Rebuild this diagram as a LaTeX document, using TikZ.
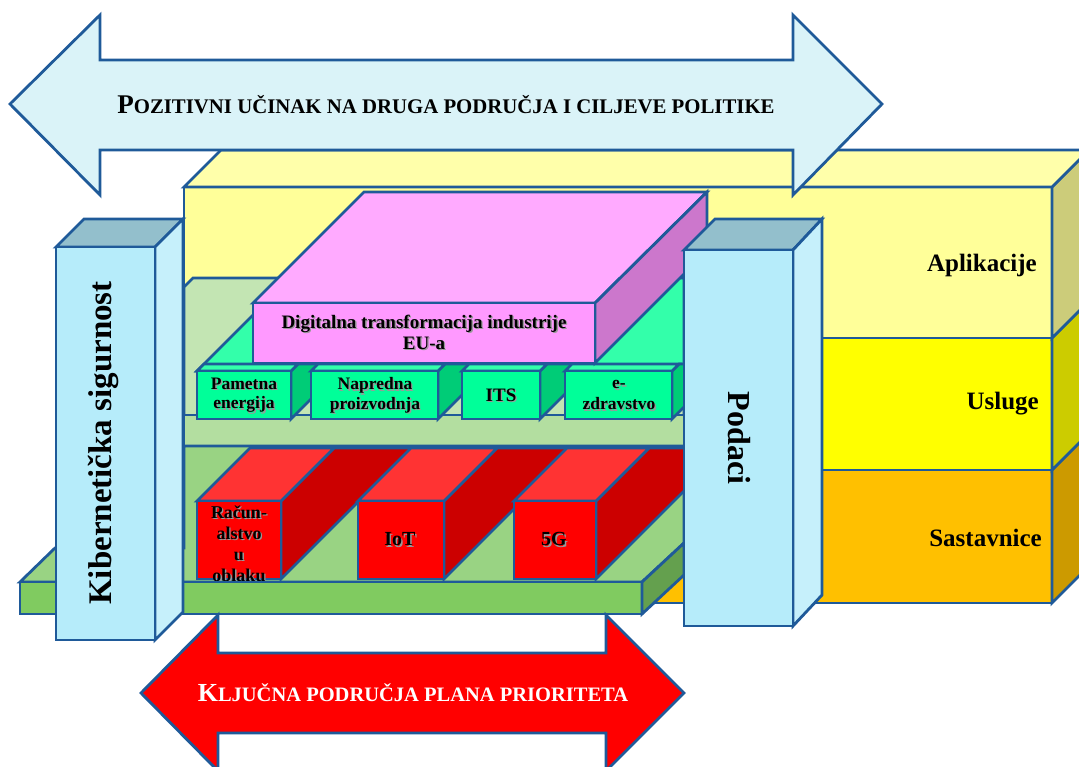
\documentclass[tikz,border=0pt]{standalone}
\usepackage{fontspec}
\setmainfont{Liberation Serif}
\definecolor{olc}{HTML}{1F5A99}
\definecolor{orfront}{HTML}{FFC000}
\definecolor{orside}{HTML}{CC9A00}
\definecolor{ylfront}{HTML}{FFFF00}
\definecolor{ylside}{HTML}{CCCC00}
\definecolor{apfront}{HTML}{FFFF99}
\definecolor{aptop}{HTML}{FFFFAA}
\definecolor{apside}{HTML}{CCCC7A}
\definecolor{arrowblue}{HTML}{DAF3F8}
\definecolor{shelfback}{HTML}{C3E5B3}
\definecolor{shelffront}{HTML}{B3DEA0}
\definecolor{tealtop}{HTML}{33FFAA}
\definecolor{tealfront}{HTML}{00FF99}
\definecolor{tealside}{HTML}{00CC77}
\definecolor{pinktop}{HTML}{FFAAFF}
\definecolor{pinkfront}{HTML}{FF99FF}
\definecolor{pinkside}{HTML}{CC77CC}
\definecolor{floorgreen}{HTML}{99D383}
\definecolor{slabfront}{HTML}{80CB60}
\definecolor{slabside}{HTML}{64A04E}
\definecolor{redtop}{HTML}{FF3333}
\definecolor{redfront}{HTML}{FF0000}
\definecolor{redside}{HTML}{CC0000}
\definecolor{kibfront}{HTML}{B6ECFA}
\definecolor{kibtop}{HTML}{93BFCC}
\definecolor{kibside}{HTML}{C6F0FB}
\newcommand\shd[1]{\makebox[0pt][l]{\hspace{1.3pt}\raisebox{-1.3pt}{\textcolor{black!40}{#1}}}#1}
\tikzset{
  face/.style={draw=olc, line width=2.8pt, line join=miter, miter limit=4},
  lbl/.style={inner sep=0pt, text=black, align=center},
}
\begin{document}
\begin{tikzpicture}[x=1pt,y=-1pt]
\useasboundingbox (0,0) rectangle (1079,767);
\clip (0,0) rectangle (1079,767);

% back box: three layers
\path[face, fill=orfront] (184,470) rectangle (1052,603);
\path[face, fill=orside] (1052,470) -- (1089,433) -- (1089,566) -- (1052,603) -- cycle;
\path[face, fill=ylfront] (184,338) rectangle (1052,470);
\path[face, fill=ylside] (1052,338) -- (1089,301) -- (1089,433) -- (1052,470) -- cycle;
\path[face, fill=apfront] (184,187) rectangle (1052,338);
\path[face, fill=apside] (1052,187) -- (1089,150) -- (1089,301) -- (1052,338) -- cycle;
\path[face, fill=aptop] (184,187) -- (221,150) -- (1089,150) -- (1052,187) -- cycle;

\node[lbl, anchor=base east, font=\fontsize{25}{28}\selectfont\bfseries] (apl) at (1037,272) {Aplikacije};
\node[lbl, anchor=base east, font=\fontsize{25}{28}\selectfont\bfseries] (usl) at (1039,409) {Usluge};
\node[lbl, anchor=base east, font=\fontsize{25}{28}\selectfont\bfseries] (sas) at (1042,546) {Sastavnice};

% top double arrow
\path[face, fill=arrowblue] (10,104) -- (100,15) -- (100,60) -- (793,60) -- (793,15) -- (882,104) -- (793,195) -- (793,150) -- (100,150) -- (100,195) -- cycle;
\node[lbl, anchor=base, font=\bfseries] (toptext) at (446,114)
  {{\fontsize{27}{30}\selectfont P}{\fontsize{20.8}{24}\selectfont OZITIVNI UČINAK NA DRUGA PODRUČJA I CILJEVE POLITIKE}};

% middle shelf
\path[face, fill=shelfback] (184,287) -- (193,278) -- (684,278) -- (684,446) -- (184,446) -- cycle;
\path[face, fill=shelffront] (184,415) rectangle (684,446);
\path[face, fill=tealtop] (197,371) -- (290,278) -- (684,278) -- (684,368) -- cycle;

% teal boxes
\foreach \a/\b in {197/291, 311/438, 462/540, 565/672} {
  \path[face, fill=tealside] (\b,371) -- (\b+7,364) -- (\b+55,364) -- (\b,419) -- cycle;
  \path[face, fill=tealtop] (\a,371) -- (\a+7,364) -- (\b+7,364) -- (\b,371) -- cycle;
  \path[face, fill=tealfront] (\a,371) rectangle (\b,419);
}
\node[lbl, font=\fontsize{17.5}{19.5}\selectfont\bfseries] (pam) at (244,396) {\shd{Pametna}\\\shd{energija}};
\node[lbl, font=\fontsize{17.5}{19.5}\selectfont\bfseries] (nap) at (375,396) {\shd{Napredna}\\\shd{proizvodnja}};
\node[lbl, font=\fontsize{19}{21}\selectfont\bfseries] (its) at (501,396) {\shd{ITS}};
\node[lbl, font=\fontsize{17.5}{21}\selectfont\bfseries] (ezd) at (619,396) {\shd{e-}\\\shd{zdravstvo}};

% pink box
\path[face, fill=pinktop] (253,303) -- (364,192) -- (707,192) -- (595,303) -- cycle;
\path[face, fill=pinkside] (595,303) -- (707,192) -- (707,251) -- (595,363) -- cycle;
\path[face, fill=pinkfront] (253,303) rectangle (595,363);
\node[lbl, font=\fontsize{19}{21.5}\selectfont\bfseries] (dig) at (424,333) {\shd{Digitalna transformacija industrije}\\\shd{EU-a}};

% lower floor
\path[face, fill=floorgreen] (20,582) -- (55,548) -- (184,548) -- (184,446) -- (684,446) -- (684,543) -- (642,582) -- cycle;

% red boxes
\foreach \a/\b in {197/281, 358/444, 514/596} {
  \path[face, fill=redside] (\b,501) -- (\b+53,448) -- (\b+131,448) -- (\b,579) -- cycle;
  \path[face, fill=redtop] (\a,501) -- (\a+53,448) -- (\b+53,448) -- (\b,501) -- cycle;
  \path[face, fill=redfront] (\a,501) rectangle (\b,579);
}
\node[lbl, font=\fontsize{18}{21}\selectfont\bfseries] (rac) at (239,544) {\shd{Račun-}\\\shd{alstvo}\\\shd{u}\\\shd{oblaku}};
\node[lbl, font=\fontsize{20}{22}\selectfont\bfseries] (iot) at (400,540) {\shd{IoT}};
\node[lbl, font=\fontsize{20}{22}\selectfont\bfseries] (fiveg) at (554,540) {\shd{5G}};

% slab
\path[face, fill=slabfront] (20,582) rectangle (642,614);
\path[face, fill=slabside] (642,582) -- (684,543) -- (684,575) -- (642,614) -- cycle;

% bottom double arrow
\path[face, fill=redfront] (141,693) -- (218,615) -- (218,653) -- (606,653) -- (606,615) -- (684,693) -- (606,771) -- (606,733) -- (218,733) -- (218,771) -- cycle;
\node[lbl, anchor=base, text=white, font=\bfseries] (bottext) at (413,701)
  {{\fontsize{26}{29}\selectfont K}{\fontsize{20.5}{24}\selectfont LJUČNA PODRUČJA PLANA PRIORITETA}};

% Kiberneticka box
\path[face, fill=kibtop] (56,247) -- (84,219) -- (183,219) -- (155,247) -- cycle;
\path[face, fill=kibside] (155,247) -- (183,219) -- (183,612) -- (155,640) -- cycle;
\path[face, fill=kibfront] (56,247) rectangle (155,640);
\node[lbl, rotate=90, font=\fontsize{33}{36}\selectfont\bfseries] (kib) at (104,443) {Kibernetička sigurnost};

% Podaci box
\path[face, fill=kibtop] (684,250) -- (715,219) -- (822,219) -- (793,250) -- cycle;
\path[face, fill=kibside] (793,250) -- (822,219) -- (822,595) -- (793,626) -- cycle;
\path[face, fill=kibfront] (684,250) rectangle (793,626);
\node[lbl, rotate=-90, font=\fontsize{32}{35}\selectfont\bfseries] (pod) at (739,438) {Podaci};
\end{tikzpicture}
\end{document}
